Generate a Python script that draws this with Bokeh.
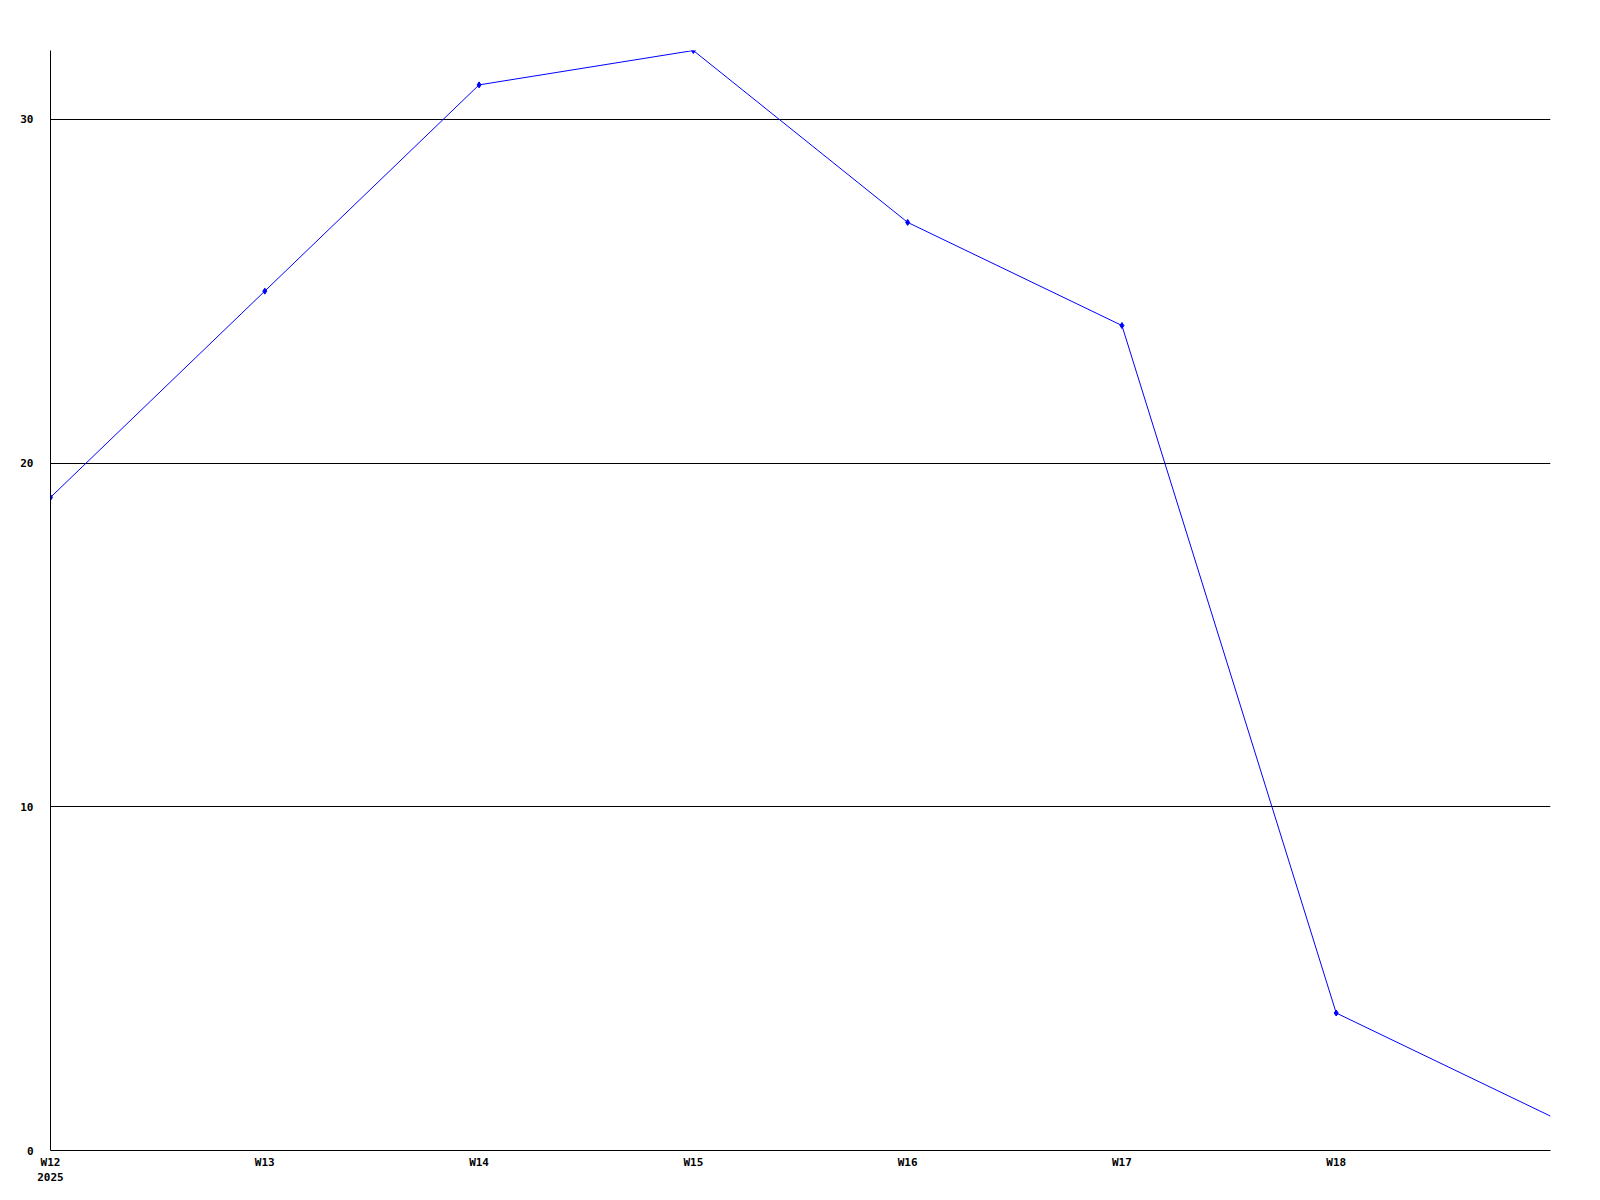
from bokeh.plotting import figure
from bokeh.models import Range1d, FixedTicker
from bokeh.embed import file_html
from bokeh.resources import INLINE

weeks = ["W12", "W13", "W14", "W15", "W16", "W17", "W18", "W19"]
year_label = "2025"
values = [19, 25, 31, 32, 27, 24, 4, 1]
y_ticks = [0, 10, 20, 30]
y_max = 32

xs = list(range(len(weeks)))

p = figure(frame_width=1500, frame_height=1100,
           min_border_left=50, min_border_top=50, min_border_right=50, min_border_bottom=48,
           x_range=Range1d(0, len(weeks) - 1), y_range=Range1d(0, y_max),
           output_backend="svg", toolbar_location=None, background_fill_color="white",
           border_fill_color="white")
p.outline_line_color = None

p.line(xs, values, line_color="#0000ff", line_width=1)
p.scatter(xs[:-1], values[:-1], marker="diamond", size=6, color="#0000ff")

# x axis
p.xaxis.ticker = FixedTicker(ticks=xs[:-1])
overrides = {i: w for i, w in enumerate(weeks[:-1])}
overrides[0] = weeks[0] + "\n" + year_label
p.xaxis.major_label_overrides = overrides
p.xaxis.major_label_standoff = -1
p.xaxis.major_label_text_align = "center"

# y axis
p.yaxis.ticker = FixedTicker(ticks=y_ticks)
p.yaxis.major_label_standoff = 11
p.yaxis.major_label_text_align = "left"

for ax in (p.xaxis[0], p.yaxis[0]):
    ax.axis_line_color = "black"
    ax.axis_line_width = 1
    ax.major_tick_line_color = None
    ax.minor_tick_line_color = None
    ax.major_label_text_font = "DejaVu Sans Mono"
    ax.major_label_text_font_style = "bold"
    ax.major_label_text_font_size = "11px"
    ax.major_label_text_color = "black"

p.xgrid.grid_line_color = None
p.ygrid.ticker = FixedTicker(ticks=y_ticks)
p.ygrid.grid_line_color = "black"
p.ygrid.grid_line_width = 1

open("out.html", "w").write(file_html(p, INLINE))
